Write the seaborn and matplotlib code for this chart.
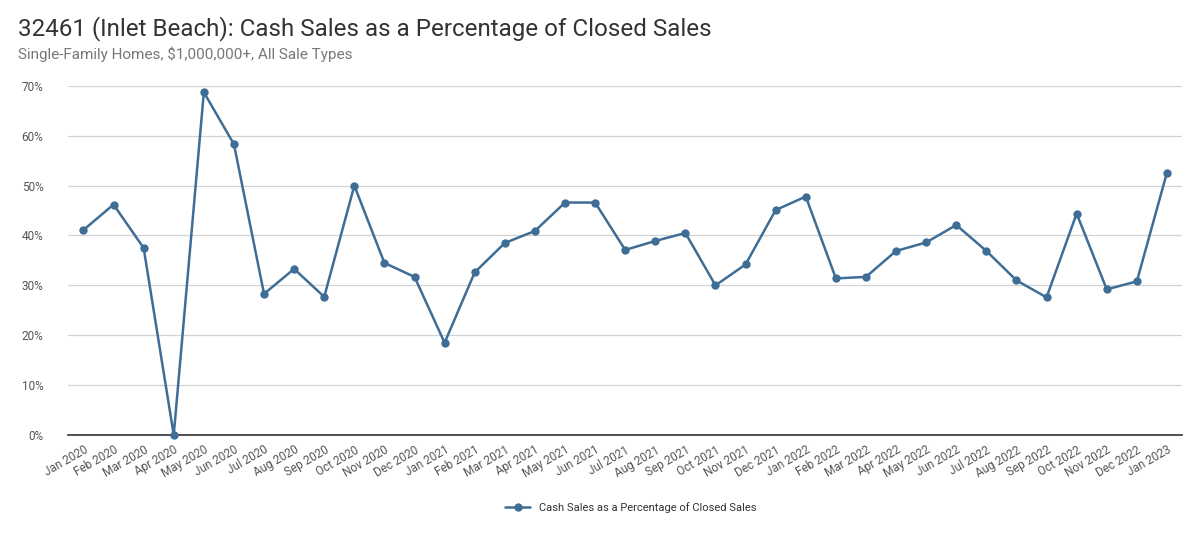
import pandas as pd
import numpy as np
import matplotlib
matplotlib.use('Agg')
import matplotlib.pyplot as plt
from matplotlib.ticker import PercentFormatter
import seaborn as sns

months = ['Jan 2020', 'Feb 2020', 'Mar 2020', 'Apr 2020', 'May 2020', 'Jun 2020',
          'Jul 2020', 'Aug 2020', 'Sep 2020', 'Oct 2020', 'Nov 2020', 'Dec 2020',
          'Jan 2021', 'Feb 2021', 'Mar 2021', 'Apr 2021', 'May 2021', 'Jun 2021',
          'Jul 2021', 'Aug 2021', 'Sep 2021', 'Oct 2021', 'Nov 2021', 'Dec 2021',
          'Jan 2022', 'Feb 2022', 'Mar 2022', 'Apr 2022', 'May 2022', 'Jun 2022',
          'Jul 2022', 'Aug 2022', 'Sep 2022', 'Oct 2022', 'Nov 2022', 'Dec 2022',
          'Jan 2023']
cash_pct = [41.1, 46.2, 37.5, 0.0, 68.7, 58.3,
            28.3, 33.3, 27.7, 50.0, 34.5, 31.7,
            18.5, 32.6, 38.5, 40.9, 46.6, 46.6,
            37.1, 38.9, 40.5, 30.0, 34.2, 45.1,
            47.8, 31.4, 31.7, 36.9, 38.6, 42.1,
            36.9, 31.0, 27.6, 44.4, 29.2, 30.8,
            52.6]
series_name = 'Cash Sales as a Percentage of Closed Sales'

df = pd.DataFrame({'month': months, 'pct': cash_pct})
df['idx'] = np.arange(len(df))

sns.set_theme(style='white')
plt.rcParams['font.family'] = ['Roboto', 'DejaVu Sans']

fig = plt.figure(figsize=(12, 5.5), dpi=100)
ax = fig.add_axes([0.057, 0.209, 0.928, 0.635])

color = '#3e6d96'
sns.lineplot(data=df, x='idx', y='pct', ax=ax, color=color, linewidth=1.8,
             marker='o', markersize=6, markeredgewidth=0, label=series_name,
             clip_on=False, zorder=3)

ax.set_xlim(-0.5, len(df) - 0.5)
ax.set_ylim(0, 70)
ax.set_yticks(np.arange(0, 71, 10))
ax.yaxis.set_major_formatter(PercentFormatter(decimals=0))
ax.grid(axis='y', color='#d3d3d3', linewidth=0.9)
ax.set_axisbelow(True)

ax.set_xticks(df['idx'])
ax.set_xticklabels(df['month'], rotation=30, ha='right', rotation_mode='anchor')
ax.tick_params(axis='x', labelsize=8.5, colors='#555555', length=0, pad=6)
ax.tick_params(axis='y', labelsize=8.5, colors='#555555', length=0, pad=18)
ax.set_xlabel('')
ax.set_ylabel('')

for s in ['top', 'right', 'left']:
    ax.spines[s].set_visible(False)
ax.spines['bottom'].set_color('#333333')
ax.spines['bottom'].set_linewidth(1.2)
ax.spines['bottom'].set_zorder(2)

fig.text(0.015, 0.935, '32461 (Inlet Beach): Cash Sales as a Percentage of Closed Sales',
         fontsize=17.4, color='#333333', ha='left', va='baseline')
fig.text(0.015, 0.893, 'Single-Family Homes, $1,000,000+, All Sale Types',
         fontsize=11, color='#777777', ha='left', va='baseline')

leg = ax.legend(loc='center', bbox_to_anchor=(0.505, -0.208), frameon=False,
                fontsize=8, handlelength=2.2)
for t in leg.get_texts():
    t.set_color('#333333')

fig.savefig('out.png', dpi=100)
